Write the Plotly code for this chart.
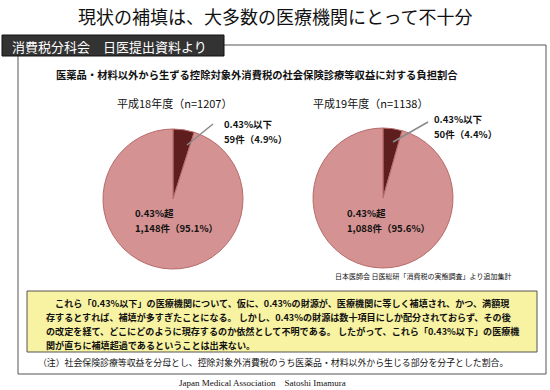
import plotly.graph_objects as go

# ---- data ----
years = ["平成18年度", "平成19年度"]
n_totals = [1207, 1138]
category_labels = ["0.43%以下", "0.43%超"]
counts_h18 = [59, 1148]
counts_h19 = [50, 1088]
pct_h18 = [4.9, 95.1]
pct_h19 = [4.4, 95.6]

title_text = "現状の補填は、大多数の医療機関にとって不十分"
header_text = "消費税分科会　日医提出資料より"
subtitle_text = "医薬品・材料以外から生ずる控除対象外消費税の社会保険診療等収益に対する負担割合"
source_text = "日本医師会 日医総研「消費税の実態調査」より追加集計"
box_lines = [
    "\u3000これら「0.43%以下」の医療機関について、仮に、0.43%の財源が、医療機関に等しく補填され、かつ、満額現",
    "存するとすれば、補填が多すぎたことになる。 しかし、0.43%の財源は数十項目にしか配分されておらず、その後",
    "の改定を経て、どこにどのように現存するのか依然として不明である。 したがって、これら「0.43%以下」の医療機",
    "関が直ちに補填超過であるということは出来ない。",
]
note_text = "（注）社会保険診療等収益を分母とし、控除対象外消費税のうち医薬品・材料以外から生じる部分を分子とした割合。"
footer_text = "Japan Medical Association\u2003Satoshi Imamura"

W, H = 550, 390
JP = "Noto Sans CJK JP"
COLORS = ["#5E1E1E", "#D49292"]


def X(px):
    return px / W


def Y(py):
    return 1 - py / H


fig = go.Figure()

pies = [
    dict(counts=counts_h18, pct=pct_h18, cx=173, cy=199, r=70),
    dict(counts=counts_h19, pct=pct_h19, cx=383, cy=198, r=70),
]
for p in pies:
    fig.add_trace(go.Pie(
        labels=category_labels, values=p["counts"], sort=False,
        direction="clockwise", rotation=0, textinfo="none",
        marker=dict(colors=COLORS, line=dict(color="#B86A6A", width=1)),
        domain=dict(x=[X(p["cx"] - p["r"]), X(p["cx"] + p["r"])],
                    y=[Y(p["cy"] + p["r"]), Y(p["cy"] - p["r"])]),
        showlegend=False, hoverinfo="label+value+percent",
    ))

shapes = []
annotations = []

# header box and frame
shapes.append(dict(type="line", xref="paper", yref="paper", x0=X(224), x1=X(546), y0=Y(45), y1=Y(45),
                   line=dict(color="#555", width=1)))
shapes.append(dict(type="line", xref="paper", yref="paper", x0=X(546), x1=X(546), y0=Y(45), y1=Y(374),
                   line=dict(color="#555", width=1)))
shapes.append(dict(type="line", xref="paper", yref="paper", x0=X(18), x1=X(546), y0=Y(374), y1=Y(374),
                   line=dict(color="#555", width=1)))
shapes.append(dict(type="line", xref="paper", yref="paper", x0=X(18), x1=X(18), y0=Y(56), y1=Y(374),
                   line=dict(color="#555", width=1)))
shapes.append(dict(type="rect", xref="paper", yref="paper", x0=X(2), x1=X(224), y0=Y(56), y1=Y(35),
                   fillcolor="#333333", line=dict(color="#111", width=1)))
# yellow box
shapes.append(dict(type="rect", xref="paper", yref="paper", x0=X(27), x1=X(537), y0=Y(352), y1=Y(291),
                   fillcolor="#F8F3A2", line=dict(color="#555", width=1)))

# leader lines
leaders = [((213, 124), (187, 145)), ((428, 122), (393, 142))]
for (a, b) in leaders:
    shapes.append(dict(type="line", xref="paper", yref="paper", x0=X(a[0]), y0=Y(a[1]), x1=X(b[0]), y1=Y(b[1]),
                       line=dict(color="#8A8A8A", width=1.5)))


def ann(text, x, y, size, color="#111", xanchor="center", bold=False, family=JP):
    if bold:
        text = "<b>" + text + "</b>"
    annotations.append(dict(text=text, x=X(x), y=Y(y), xref="paper", yref="paper",
                            xanchor=xanchor, yanchor="middle", showarrow=False,
                            font=dict(family=family, size=size, color=color)))


ann(title_text, 275, 16, 18)
ann(header_text, 10, 46, 13, color="white", xanchor="left")
ann(subtitle_text, 257, 74, 10.3, bold=True)

# pie titles and labels
title_pos = [(174, 103), (370, 103)]
small_pos = [(222, 124), (432, 119)]
big_pos = [(133, 213), (345, 213)]
counts_all = [counts_h18, counts_h19]
pct_all = [pct_h18, pct_h19]
for i in range(2):
    ann(f"{years[i]}（n={n_totals[i]}）", title_pos[i][0], title_pos[i][1], 11)
    c, pc = counts_all[i], pct_all[i]
    ann(category_labels[0], small_pos[i][0], small_pos[i][1], 9.5, xanchor="left", bold=True)
    ann(f"{c[0]:,}件（{pc[0]}%）", small_pos[i][0], small_pos[i][1] + 15, 9.5, xanchor="left", bold=True)
    ann(category_labels[1], big_pos[i][0], big_pos[i][1], 9.5, xanchor="left", bold=True)
    ann(f"{c[1]:,}件（{pc[1]}%）", big_pos[i][0], big_pos[i][1] + 15, 9.5, xanchor="left", bold=True)

annotations.append(dict(text=source_text, x=X(513), y=Y(276), xref="paper", yref="paper",
                        xanchor="right", yanchor="middle", showarrow=False,
                        font=dict(family=JP, size=7, color="#111")))

for k, line in enumerate(box_lines):
    ann(line, 44, 303 + 14 * k, 9.1, xanchor="left", bold=True)

ann(note_text, 36, 362, 8.9, xanchor="left")
ann(footer_text, 262, 383, 9, family="Liberation Serif")

fig.update_layout(
    width=W, height=H, margin=dict(l=0, r=0, t=0, b=0),
    paper_bgcolor="white", plot_bgcolor="white",
    shapes=shapes, annotations=annotations,
)

fig.write_html("out.html", config={"displayModeBar": False},
               post_script="document.body.style.margin='0';")
